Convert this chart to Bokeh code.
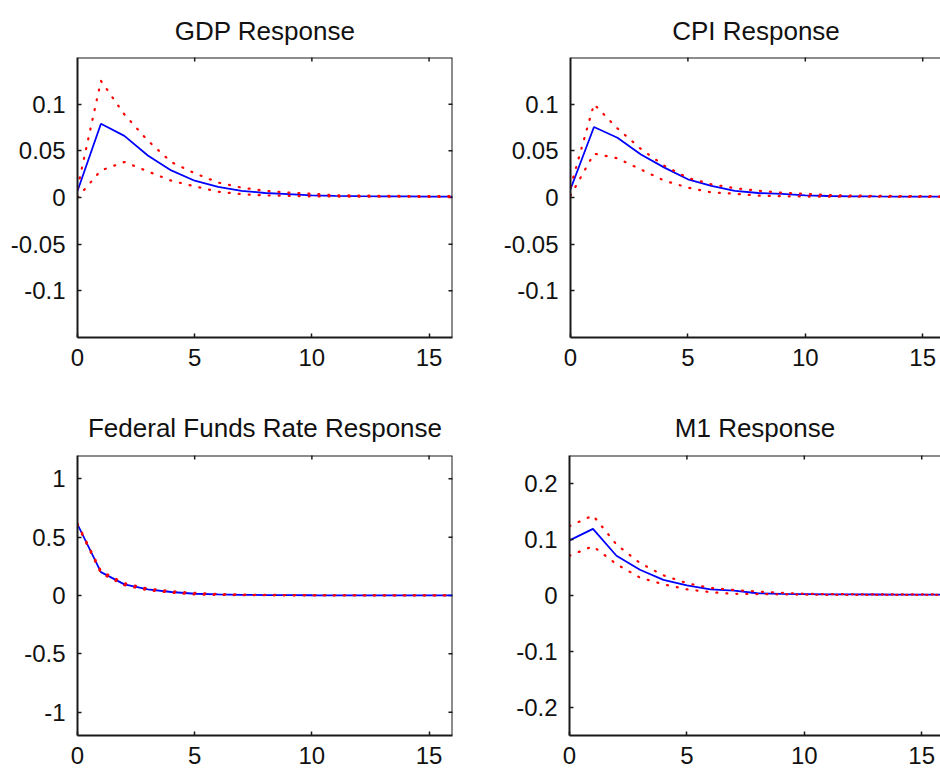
import math
from bokeh.plotting import figure
from bokeh.layouts import column, row
from bokeh.models import Range1d, FixedTicker, CustomJSTickFormatter, Span
from bokeh.embed import file_html
from bokeh.resources import INLINE

horizon = list(range(17))
x_ticks = [0, 5, 10, 15]

gdp_resp = [0.007, 0.079, 0.066, 0.045, 0.029, 0.018, 0.0115, 0.0072, 0.0048, 0.0036, 0.0022, 0.0017, 0.0014, 0.0012, 0.0011, 0.001, 0.001]
gdp_upper = [0.010, 0.125, 0.089, 0.061, 0.038, 0.026, 0.016, 0.0106, 0.0072, 0.0052, 0.004, 0.0025, 0.002, 0.0018, 0.0016, 0.0015, 0.0014]
gdp_lower = [0.0, 0.029, 0.038, 0.028, 0.018, 0.012, 0.0062, 0.0036, 0.0022, 0.0018, 0.0012, 0.001, 0.0009, 0.0008, 0.0008, 0.0007, 0.0007]

cpi_resp = [0.009, 0.0755, 0.064, 0.046, 0.032, 0.0195, 0.0124, 0.0072, 0.0048, 0.0038, 0.0022, 0.0016, 0.0013, 0.0011, 0.001, 0.001, 0.001]
cpi_upper = [0.011, 0.100, 0.074, 0.052, 0.034, 0.021, 0.0142, 0.010, 0.0072, 0.0052, 0.004, 0.0025, 0.002, 0.0018, 0.0016, 0.0015, 0.0014]
cpi_lower = [0.002, 0.047, 0.042, 0.030, 0.018, 0.0106, 0.0055, 0.004, 0.002, 0.0014, 0.001, 0.0009, 0.0008, 0.0008, 0.0007, 0.0007, 0.0007]

ffr_resp = [0.61, 0.20, 0.095, 0.052, 0.030, 0.015, 0.009, 0.006, 0.004, 0.003, 0.002, 0.0015, 0.001, 0.001, 0.001, 0.001, 0.001]
ffr_upper = [0.615, 0.21, 0.105, 0.060, 0.037, 0.022, 0.013, 0.008, 0.005, 0.004, 0.003, 0.002, 0.002, 0.0015, 0.0015, 0.0015, 0.0015]
ffr_lower = [0.605, 0.19, 0.088, 0.045, 0.024, 0.009, 0.005, 0.003, 0.002, 0.0015, 0.001, 0.001, 0.001, 0.001, 0.001, 0.001, 0.001]

m1_resp = [0.0985, 0.119, 0.071, 0.046, 0.028, 0.018, 0.011, 0.0086, 0.004, 0.003, 0.0025, 0.002, 0.002, 0.0018, 0.0017, 0.0016, 0.0015]
m1_upper = [0.124, 0.143, 0.091, 0.058, 0.036, 0.022, 0.0135, 0.0099, 0.007, 0.005, 0.003, 0.0025, 0.0022, 0.002, 0.002, 0.0019, 0.0018]
m1_lower = [0.071, 0.088, 0.056, 0.032, 0.020, 0.011, 0.006, 0.003, 0.0025, 0.002, 0.0015, 0.0012, 0.001, 0.001, 0.001, 0.001, 0.001]

FONT = "Liberation Sans"
TXT = "#111111"
EDGE = "#1a1a1a"


def style_axis(ax, ticks, standoff):
    ax.ticker = FixedTicker(ticks=ticks)
    ax.formatter = CustomJSTickFormatter(code="return String(tick);")
    ax.major_tick_in = 4
    ax.major_tick_out = 0
    ax.major_tick_line_color = EDGE
    ax.major_tick_line_width = 1.5
    ax.minor_tick_line_color = None
    ax.axis_line_color = EDGE
    ax.axis_line_width = 2
    ax.major_label_text_font = FONT
    ax.major_label_text_font_size = "24px"
    ax.major_label_text_color = TXT
    ax.major_label_standoff = standoff


def make_panel(title, resp, upper, lower, ylim, yticks, is_right, is_top):
    fw = 371 if is_right else 375
    xend = 15.8 if is_right else 16
    p = figure(
        frame_width=fw, frame_height=280,
        x_range=Range1d(0, xend), y_range=Range1d(-ylim, ylim),
        output_backend="svg", toolbar_location=None,
        min_border_left=69 if is_right else 77,
        min_border_right=0 if is_right else 48,
        min_border_top=57 if is_top else 78,
        min_border_bottom=40 if is_top else 34,
        background_fill_color="white", border_fill_color="white",
    )
    p.title.text = title
    p.title.text_font = FONT
    p.title.text_font_size = "26px"
    p.title.text_font_style = "normal"
    p.title.text_color = TXT
    p.title.align = "center"
    p.title.standoff = 24 if is_top else 26
    p.xgrid.grid_line_color = None
    p.ygrid.grid_line_color = None
    p.outline_line_color = None

    style_axis(p.xaxis[0], x_ticks, 11)
    style_axis(p.yaxis[0], yticks, 12)

    # box edges: top always, right only where the frame is not cut by the window
    p.add_layout(Span(location=ylim, dimension="width", line_color=EDGE, line_width=2))
    top_ticks = [t for t in x_ticks if 0 < t < xend]
    p.scatter(top_ticks, [ylim] * len(top_ticks), marker="dash", size=8,
              angle=math.pi / 2, line_color=EDGE, line_width=1.5)
    if not is_right:
        p.add_layout(Span(location=xend, dimension="height", line_color=EDGE, line_width=2))
        p.scatter([xend] * len(yticks), yticks, marker="dash", size=8,
                  line_color=EDGE, line_width=1.5)

    p.line(horizon, resp, line_color="#0000ff", line_width=1.8)
    for band in (upper, lower):
        p.line(horizon, band, line_color="#ff0000", line_width=2.2,
               line_dash="1 9", line_cap="round")
    return p


p1 = make_panel("GDP Response", gdp_resp, gdp_upper, gdp_lower, 0.15,
                [-0.1, -0.05, 0, 0.05, 0.1], False, True)
p2 = make_panel("CPI Response", cpi_resp, cpi_upper, cpi_lower, 0.15,
                [-0.1, -0.05, 0, 0.05, 0.1], True, True)
p3 = make_panel("Federal Funds Rate Response", ffr_resp, ffr_upper, ffr_lower, 1.2,
                [-1, -0.5, 0, 0.5, 1], False, False)
p4 = make_panel("M1 Response", m1_resp, m1_upper, m1_lower, 0.25,
                [-0.2, -0.1, 0, 0.1, 0.2], True, False)

layout = column(row(p1, p2, spacing=0), row(p3, p4, spacing=0), spacing=0)

open("out.html", "w").write(file_html(layout, INLINE))
